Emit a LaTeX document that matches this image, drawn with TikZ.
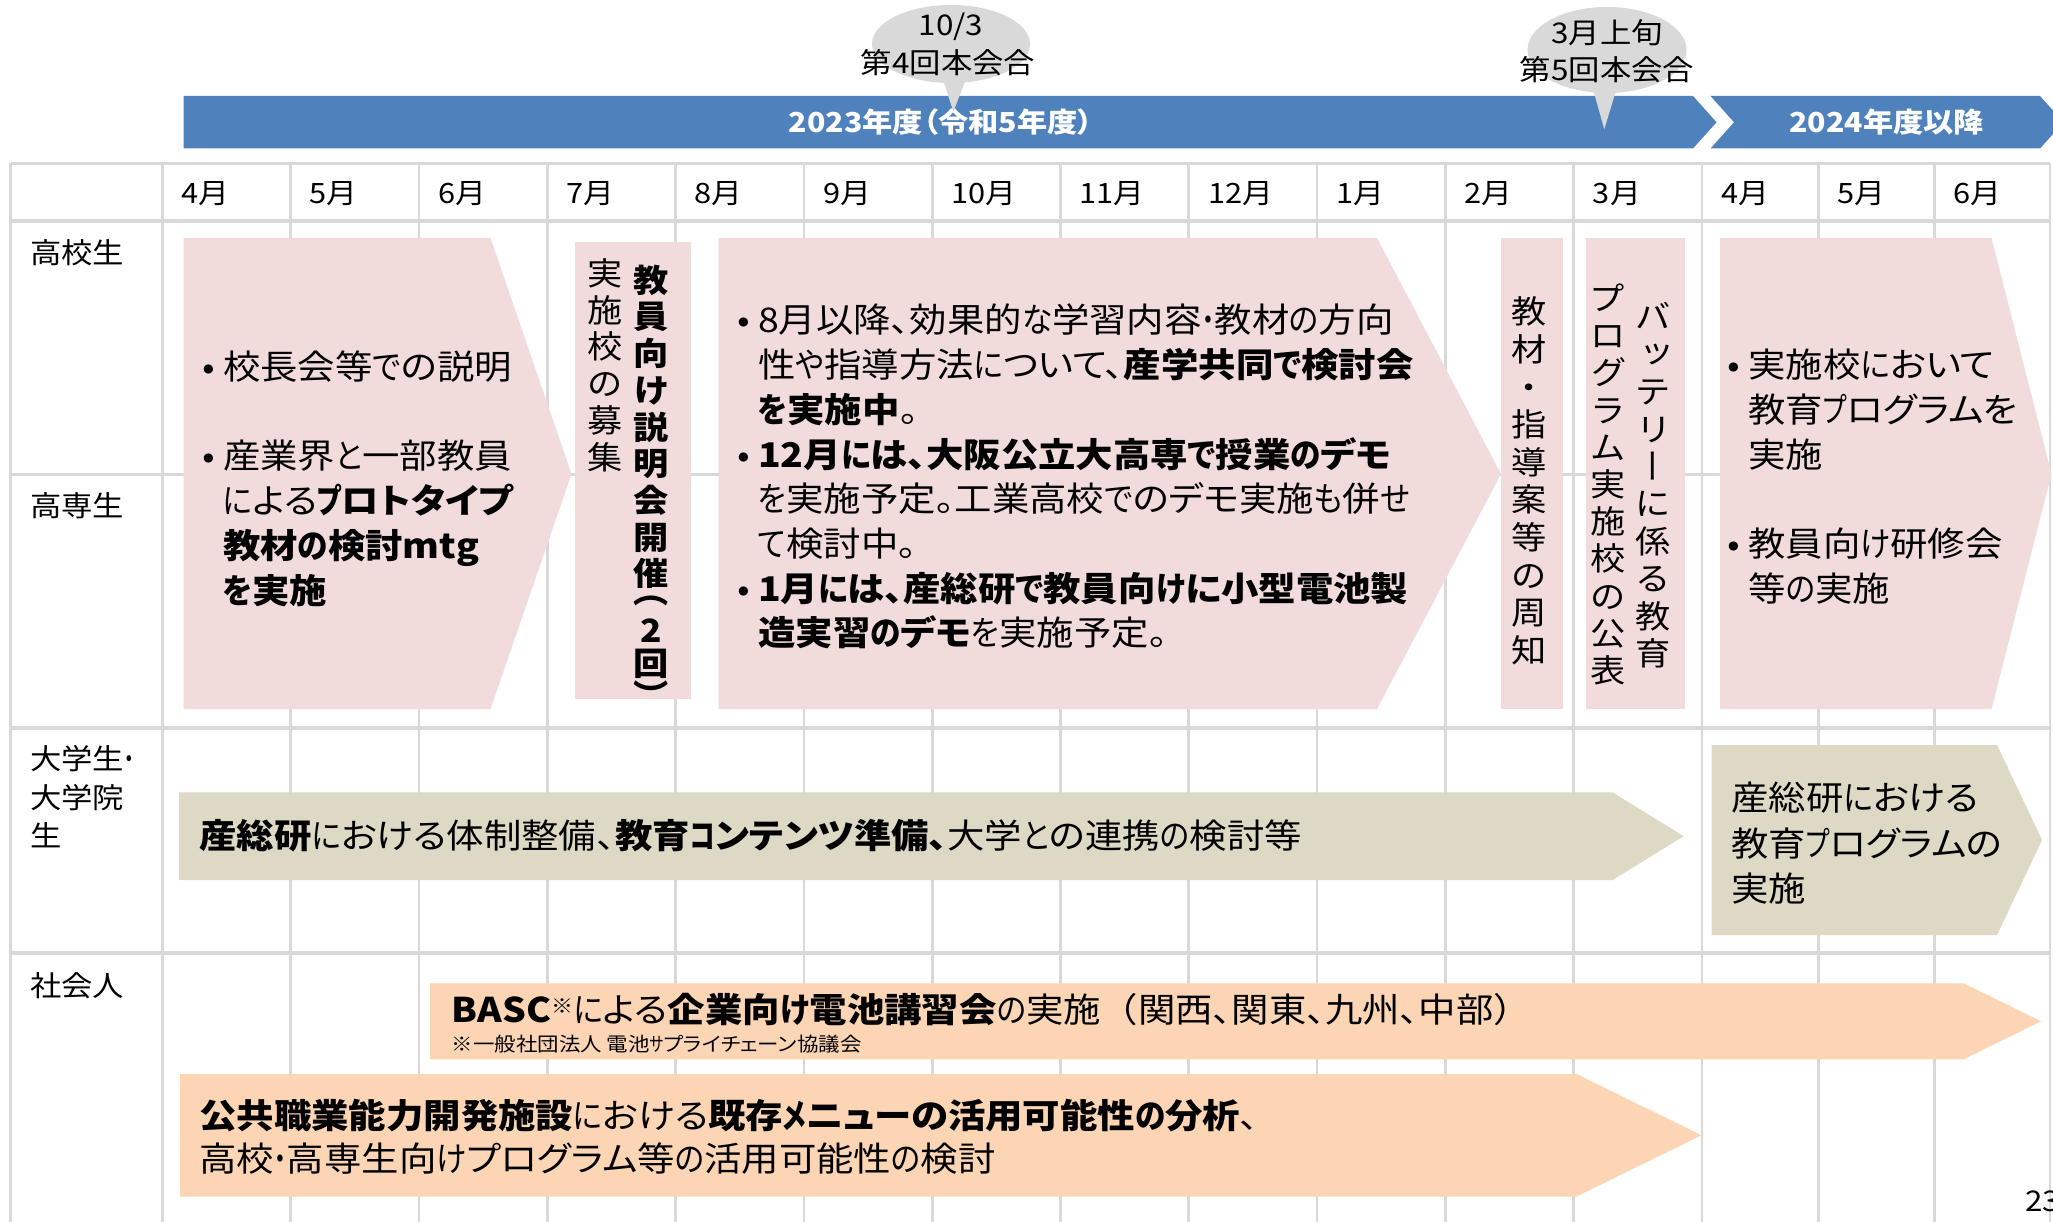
\documentclass[tikz,border=0pt]{standalone}
\usepackage{fontspec}
\usepackage{graphicx}
\setmainfont{Noto Sans CJK JP}[RawFeature={+palt},FakeStretch=1.1]
\newfontfamily\hirafam{Noto Sans CJK JP}[RawFeature={+palt},FakeStretch=0.9]
\newfontfamily\katafam{Noto Sans CJK JP}[RawFeature={+palt},FakeStretch=0.76]
\newfontfamily\fullw{Noto Sans CJK JP}[FakeStretch=1.1]
% narrower kana, as in the reference's font
\newXeTeXintercharclass\HiraCls
\newXeTeXintercharclass\KataCls
\count255="3041
\loop
  \XeTeXcharclass\count255=\HiraCls
  \advance\count255 by 1
\ifnum\count255<"30A0\repeat
\count255="30A0
\loop
  \XeTeXcharclass\count255=\KataCls
  \advance\count255 by 1
\ifnum\count255<"3100\repeat
\XeTeXinterchartoks 0 \HiraCls = {\hirafam}
\XeTeXinterchartoks 1 \HiraCls = {\hirafam}
\XeTeXinterchartoks 2 \HiraCls = {\hirafam}
\XeTeXinterchartoks 3 \HiraCls = {\hirafam}
\XeTeXinterchartoks 4095 \HiraCls = {\hirafam}
\XeTeXinterchartoks \KataCls \HiraCls = {\hirafam}
\XeTeXinterchartoks 0 \KataCls = {\katafam}
\XeTeXinterchartoks 1 \KataCls = {\katafam}
\XeTeXinterchartoks 2 \KataCls = {\katafam}
\XeTeXinterchartoks 3 \KataCls = {\katafam}
\XeTeXinterchartoks 4095 \KataCls = {\katafam}
\XeTeXinterchartoks \HiraCls \KataCls = {\katafam}
\XeTeXinterchartoks \HiraCls 0 = {\rmfamily}
\XeTeXinterchartoks \HiraCls 1 = {\rmfamily}
\XeTeXinterchartoks \HiraCls 2 = {\rmfamily}
\XeTeXinterchartoks \HiraCls 3 = {\rmfamily}
\XeTeXinterchartoks \HiraCls 4095 = {\rmfamily}
\XeTeXinterchartoks \KataCls 0 = {\rmfamily}
\XeTeXinterchartoks \KataCls 1 = {\rmfamily}
\XeTeXinterchartoks \KataCls 2 = {\rmfamily}
\XeTeXinterchartoks \KataCls 3 = {\rmfamily}
\XeTeXinterchartoks \KataCls 4095 = {\rmfamily}
\XeTeXinterchartokenstate=1
\newcommand\nokana{\XeTeXinterchartokenstate=0\relax}
\definecolor{pinkc}{HTML}{F2DCDB}
\definecolor{olivec}{HTML}{DDD9C4}
\definecolor{peachc}{HTML}{FCD5B5}
\definecolor{bannerc}{HTML}{4F81BD}
\definecolor{bubc}{HTML}{D9D9D9}
\definecolor{gridc}{HTML}{D9D9D9}
\newcommand\bul{\makebox[28pt][c]{•}}
\newcommand\ind{\hspace*{28pt}}
\newcommand\vbar{\rotatebox[origin=c]{-90}{\raisebox{0pt}[.88em][.12em]{ー}}}
\begin{document}
\begin{tikzpicture}[x=1pt,y=-1pt,
  grid/.style={draw=gridc,line width=2.7pt},
  gridb/.style={draw=gridc,line width=4pt},
  body/.style={anchor=west,inner sep=0pt,text height=29.9pt,text depth=4.1pt,font=\fontsize{34}{40}\selectfont},
  lab/.style={anchor=west,inner sep=0pt,text height=25.1pt,text depth=3.4pt,font=\fontsize{28.5}{34}\selectfont},
  bub/.style={lab,anchor=center},
  ban/.style={anchor=center,inner sep=0pt,text height=24.2pt,text depth=3.3pt,text=white,font=\fontsize{27.5}{33}\selectfont\bfseries},
  vch/.style={anchor=center,inner sep=0pt,text height=28.2pt,text depth=3.8pt,font=\fontsize{32}{38}\selectfont\nokana},
  vchb/.style={vch,font=\fontsize{32}{38}\selectfont\bfseries\nokana},
  note/.style={anchor=west,inner sep=0pt,text height=17.2pt,text depth=2.3pt,font=\fontsize{19.5}{22}\selectfont},
  pinkshape/.style={fill=pinkc},
  oliveshape/.style={fill=olivec},
  peachshape/.style={fill=peachc},
  bannershape/.style={fill=bannerc},
  bubshape/.style={fill=bubc}
]
\useasboundingbox (0,0) rectangle (2053,1222);
\fill[white] (0,0) rectangle (2053,1222);
\clip (0,0) rectangle (2053,1222);

% grid
\foreach \yy in {163.3,474.5} \draw[grid] (10.5,\yy) -- (2050,\yy);
\foreach \yy in {221,727.5,953} \draw[gridb] (10.5,\yy) -- (2050,\yy);
\foreach \xx in {10.5,162.4,290.7,419,547.3,675.6,803.9,932.2,1060.5,1188.8,1317.1,1445.4,1573.7,1702,1818.3,1934.3,2050}
  \draw[grid] (\xx,163.3) -- (\xx,1222);

% month labels
\foreach \xx/\m [count=\i] in {181.4/4月,309.7/5月,438/6月,566.3/7月,694.6/8月,822.9/9月,951.2/10月,1079.5/11月,1207.8/12月,1336.1/1月,1464.4/2月,1592.7/3月,1721/4月,1837.3/5月,1953.3/6月}
  \node[lab,font=\fontsize{28}{34}\selectfont] (m\i) at (\xx,193) {\m};

% row labels
\node[lab] (r1) at (30,253) {高校生};
\node[lab] (r2) at (30,506) {高専生};
\node[lab] (r3a) at (30,759) {大学生・};
\node[lab] (r3b) at (30,797.5) {大学院};
\node[lab] (r3c) at (30,836) {生};
\node[lab] (r4) at (30,986) {社会人};

% pink shapes
\fill[pinkshape] (183.5,238) -- (490.5,238) -- (571.5,474) -- (490.5,709) -- (183.5,709) -- cycle;
\fill[pinkshape] (575,242.5) rectangle (691,699);
\fill[pinkshape] (718.5,238) -- (1377,238) -- (1501,474) -- (1377,709) -- (718.5,709) -- cycle;
\fill[pinkshape] (1501,238) rectangle (1562.5,709);
\fill[pinkshape] (1586,238) rectangle (1684.5,709);
\fill[pinkshape] (1720,238) -- (1991.5,238) -- (2051.5,474) -- (1991.5,709) -- (1720,709) -- cycle;

% olive shapes
\fill[oliveshape] (179,792.3) -- (1612.5,792.3) -- (1683.7,836.2) -- (1612.5,880) -- (179,880) -- cycle;
\fill[oliveshape] (1711.5,745) -- (1997,745) -- (2042,840) -- (1997,935) -- (1711.5,935) -- cycle;

% peach shapes
\fill[peachshape] (430,983.3) -- (1963.7,983.3) -- (2041,1021.3) -- (1963.7,1059.3) -- (430,1059.3) -- cycle;
\fill[peachshape] (180,1074) -- (1576.5,1074) -- (1701.5,1135.3) -- (1576.5,1196.5) -- (180,1196.5) -- cycle;

% banner
\fill[bannershape] (183.5,96) -- (1693,96) -- (1716.5,122.25) -- (1693,148.5) -- (183.5,148.5) -- cycle;
\fill[bannershape] (1710.5,96) -- (2040,96) -- (2063.5,122.25) -- (2040,148.5) -- (1710.5,148.5) -- (1734,122.25) -- cycle;
\node[ban] (y2023) at (940.7,122.5) {2023年度（令和5年度）};
\node[ban] (y2024) at (1886.7,122.5) {2024年度以降};

% callouts
\fill[bubshape] (951,44) ellipse [x radius=79pt, y radius=39pt];
\fill[bubshape] (940,70) -- (969.6,70) -- (953.3,111.7) -- cycle;
\fill[bubshape] (1607,50) ellipse [x radius=79.5pt, y radius=43pt];
\fill[bubshape] (1589,75) -- (1620.7,75) -- (1604.3,129.3) -- cycle;
\node[bub] (c4a) at (951,25) {10/3};
\node[bub] (c4b) at (948,62.5) {第4回本会合};
\node[bub] (c5a) at (1607,32.5) {3月上旬};
\node[bub] (c5b) at (1607,70) {第5回本会合};

% text A
\node[body] (a1) at (195,366.7) {\bul 校長会等での説明};
\node[body] (a2) at (195,456) {\bul 産業界と一部教員};
\node[body] (a3) at (195,500.7) {\ind による\textbf{プロトタイプ}};
\node[body] (a4) at (195,545.4) {\ind \textbf{教材の検討mtg}};
\node[body] (a5) at (195,590.1) {\ind \textbf{を実施}};

% box B (vertical)
\foreach \c/\yy [count=\i] in {教/280,員/316.7,向/353.4,け/390.1,説/426.8,明/463.5,会/500.2,開/536.9,催/573.6,︵/591,2/630,回/663,︶/695}
  \node[vchb] (bR\i) at (651,\yy) {\c};
\foreach \c/\yy [count=\i] in {実/273.3,施/310,校/346.7,の/383.4,募/420.1,集/456.8}
  \node[vch] (bL\i) at (605,\yy) {\c};

% text C
\node[body] (c1) at (730,320) {\bul 8月以降、効果的な学習内容・教材の方向};
\node[body] (c2) at (730,364.7) {\ind 性や指導方法について、\textbf{産学共同で検討会}};
\node[body] (c3) at (730,409.4) {\ind \textbf{を実施中}。};
\node[body] (c4) at (730,454.1) {\bul \textbf{12月には、大阪公立大高専で授業のデモ}};
\node[body] (c5) at (730,498.8) {\ind を実施予定。工業高校でのデモ実施も併せ};
\node[body] (c6) at (730,543.5) {\ind て検討中。};
\node[body] (c7) at (730,588.2) {\bul \textbf{1月には、産総研で教員向けに小型電池製}};
\node[body] (c8) at (730,632.9) {\ind \textbf{造実習のデモ}を実施予定。};

% box D
\foreach \c [count=\i] in {教,材,・,指,導,案,等,の,周,知}
  \node[vch] (d\i) at (1529,{311.7+37.6*(\i-1)}) {\c};

% box E
\foreach \c/\dx/\dy [count=\i] in {バ/0/0,ッ/4/-4,テ/0/0,リ/0/0,\vbar/0/0,に/0/0,係/0/0,る/0/0,教/0/0,育/0/0}
  \node[vch] (eR\i) at ({1653+\dx},{316.7+37.4*(\i-1)+\dy}) {\c};
\foreach \c [count=\i] in {プ,ロ,グ,ラ,ム,実,施,校,の,公,表}
  \node[vch] (eL\i) at (1608,{298.3+37.2*(\i-1)}) {\c};

% text F
\node[body] (f1) at (1720,364.7) {\bul 実施校において};
\node[body] (f2) at (1720,409.4) {\ind 教育プログラムを};
\node[body] (f3) at (1720,454.1) {\ind 実施};
\node[body] (f4) at (1720,543.5) {\bul 教員向け研修会};
\node[body] (f5) at (1720,588.2) {\ind 等の実施};

% text G, H
\node[body] (g1) at (199,836) {\textbf{産総研}における体制整備、\textbf{教育コンテンツ準備、}大学との連携の検討等};
\node[body] (h1) at (1731,798) {産総研における};
\node[body] (h2) at (1731,844) {教育プログラムの};
\node[body] (h3) at (1731,889) {実施};

% text I, J
\node[body] (i1) at (451.7,1010) {\textbf{BASC}\raisebox{9pt}{\fontsize{20}{20}\selectfont ※}による\textbf{企業向け電池講習会}の実施{\fullw （}関西、関東、九州、中部{\fullw ）}};
\node[note] (i2) at (451.7,1044) {※一般社団法人 電池サプライチェーン協議会};
\node[body] (j1) at (199,1116) {\textbf{公共職業能力開発施設}における\textbf{既存メニューの活用可能性の分析}、};
\node[body] (j2) at (199,1159) {高校・高専生向けプログラム等の活用可能性の検討};

% page number
\node[lab] (pg) at (2025,1201) {23};
\end{tikzpicture}
\end{document}
